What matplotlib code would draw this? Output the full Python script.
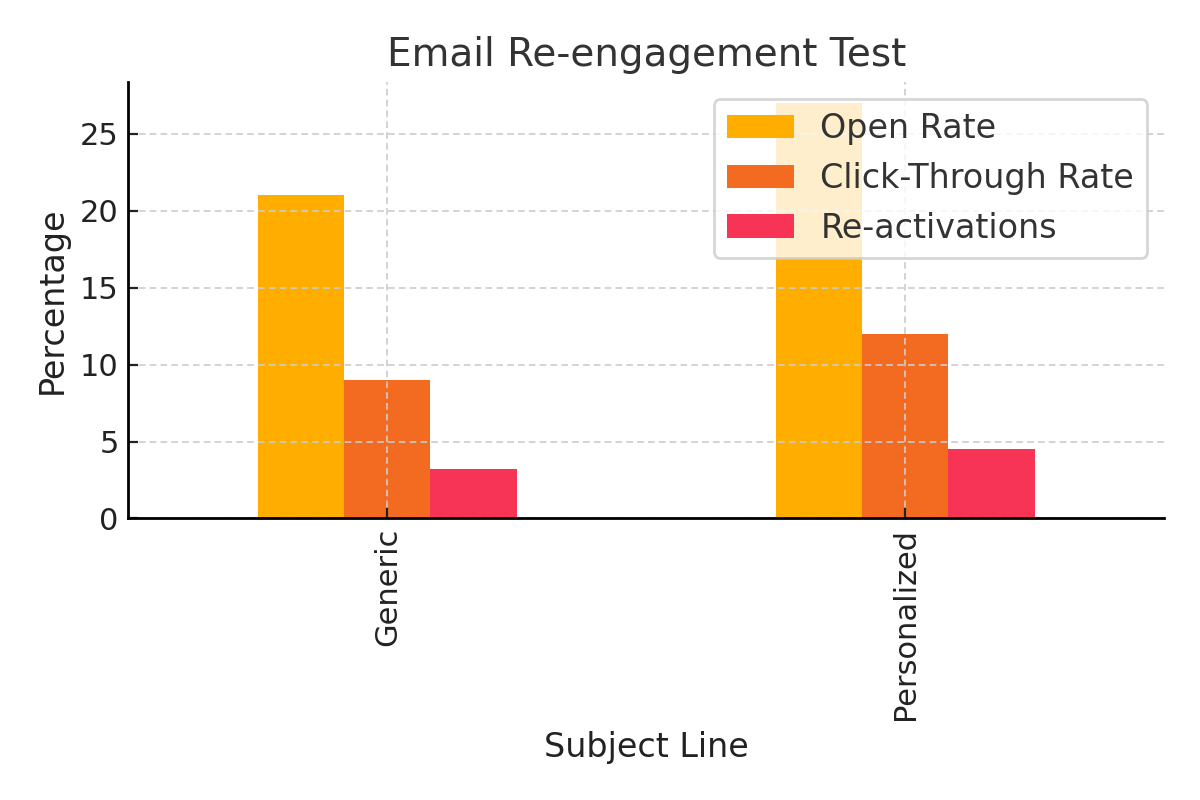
import matplotlib
matplotlib.use("Agg")
import matplotlib.pyplot as plt
import pandas as pd

categories = ["Generic", "Personalized"]
open_rate = [21, 27]
ctr = [9, 12]
reactivations = [3.2, 4.5]
colors = ["#FFAE00", "#F26B21", "#F73455"]

df = pd.DataFrame({"Open Rate": open_rate,
                   "Click-Through Rate": ctr,
                   "Re-activations": reactivations}, index=categories)

plt.rcParams['font.family'] = ['DejaVu Sans']
fig, ax = plt.subplots(figsize=(6, 4), dpi=200)
df.plot(kind="bar", ax=ax, color=colors, width=0.5)

ax.set_title("Email Re-engagement Test", fontsize=14, color="#333333")
ax.set_xlabel("Subject Line", fontsize=12, color="#222222")
ax.set_ylabel("Percentage", fontsize=12, color="#222222")
ax.tick_params(labelsize=11, color="#222222", labelcolor="#222222",
               direction="in", length=3.5)
ax.spines["top"].set_visible(False)
ax.spines["right"].set_visible(False)
for s in ("left", "bottom"):
    ax.spines[s].set_linewidth(1.0)
    ax.spines[s].set_zorder(5)
ax.set_axisbelow(False)
ax.grid(True, linestyle=(0, (4, 2.5)), color="#cccccc", linewidth=0.6)
leg = ax.legend(fontsize=12, loc="upper right", framealpha=0.8, edgecolor="#cccccc")
for t in leg.get_texts():
    t.set_color("#333333")

fig.subplots_adjust(left=0.107, right=0.97, top=0.897, bottom=0.352)
plt.savefig("out.png", dpi=200)
